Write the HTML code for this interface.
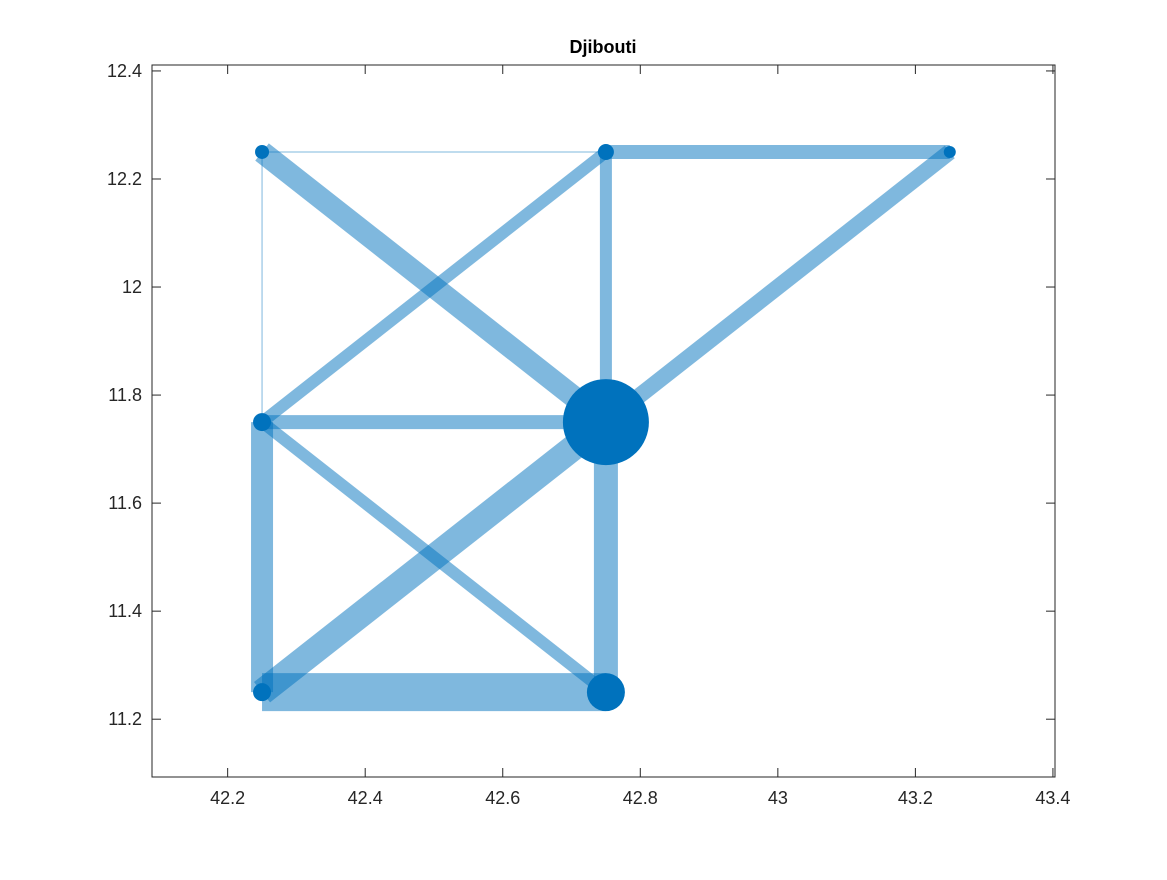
<!DOCTYPE html>
<html><head><meta charset="utf-8"><style>
body{margin:0;background:#fff;font-family:"Liberation Sans",sans-serif}
svg text{font-family:"Liberation Sans",sans-serif}
</style></head><body>
<svg id="chart" width="1167" height="875" xmlns="http://www.w3.org/2000/svg">
<rect width="1167" height="875" fill="#fff"/>
<g id="edges"></g>
<g id="nodes"></g>
<g id="axes"></g>
<text x="603" y="53" text-anchor="middle" font-size="18" font-weight="bold">Djibouti</text>
</svg>
<script>
const nodeX=[42.25,42.75,43.25,42.25,42.75,42.25,42.75];
const nodeY=[12.25,12.25,12.25,11.75,11.75,11.25,11.25];
const nodeR=[7,8,6,9,43,9,19];
const edgeFrom=[0,0,0,1,1,1,2,3,3,3,4,4,5];
const edgeTo=[1,3,4,2,3,4,4,4,6,5,5,6,6];
const edgeW=[1,1,22,14,12,12,16,14,12,22,26,24,38];
const xTicks=[42.2,42.4,42.6,42.8,43,43.2,43.4];
const yTicks=[11.2,11.4,11.6,11.8,12,12.2,12.4];
const L=152,R=1055,T=65,B=777,x0=42.090,x1=43.403,y0=11.093,y1=12.411;
const sx=v=>L+(v-x0)/(x1-x0)*(R-L);
const sy=v=>B-(v-y0)/(y1-y0)*(B-T);
const NS="http://www.w3.org/2000/svg";
function mk(t,a,p){const e=document.createElementNS(NS,t);for(const k in a)e.setAttribute(k,a[k]);p.appendChild(e);return e;}
const eg=document.getElementById('edges');
edgeFrom.forEach((f,i)=>{const t=edgeTo[i];
 const l=mk('line',{x1:sx(nodeX[f]),y1:sy(nodeY[f]),x2:sx(nodeX[t]),y2:sy(nodeY[t]),stroke:'#0072BD','stroke-opacity':0.5,'stroke-width':edgeW[i]},eg);
 
 });
const ng=document.getElementById('nodes');
nodeX.forEach((x,i)=>{const c=mk('circle',{cx:sx(x),cy:sy(nodeY[i]),r:nodeR[i],fill:'#0072BD'},ng);
 
 });
const ag=document.getElementById('axes');
mk('rect',{x:L,y:T,width:R-L,height:B-T,fill:'none',stroke:'#262626','stroke-width':1},ag);
xTicks.forEach(v=>{const x=sx(v);
 mk('line',{x1:x,y1:B,x2:x,y2:B-9,stroke:'#262626'},ag);
 mk('line',{x1:x,y1:T,x2:x,y2:T+9,stroke:'#262626'},ag);
 const t=mk('text',{x:x,y:B+27,'text-anchor':'middle','font-size':18,fill:'#262626'},ag);t.textContent=v;
 
 });
yTicks.forEach(v=>{const y=sy(v);
 mk('line',{x1:L,y1:y,x2:L+9,y2:y,stroke:'#262626'},ag);
 mk('line',{x1:R,y1:y,x2:R-9,y2:y,stroke:'#262626'},ag);
 const t=mk('text',{x:L-10,y:y+6,'text-anchor':'end','font-size':18,fill:'#262626'},ag);t.textContent=v;
 
 });
</script>
</body></html>
